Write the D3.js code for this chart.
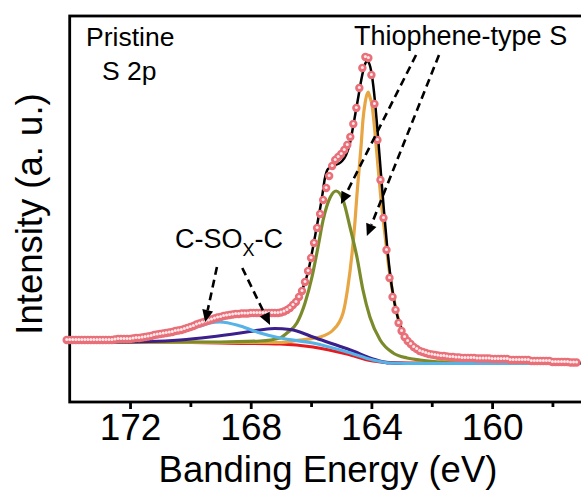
<!DOCTYPE html>
<html>
<head>
<meta charset="utf-8">
<script src="https://cdn.jsdelivr.net/npm/d3@7"></script>
<style>
body { margin: 0; background: #fff; }
text { font-family: "Liberation Sans", Arial, sans-serif; fill: #000; }
</style>
</head>
<body>
<div id="chart"></div>
<script>

// measured S 2p spectrum: start energy, step (eV) and counts (a. u.)
var bindStart = 174.1, bindStep = 0.1;
var rawCounts = [
	62, 62, 62, 62, 62, 62, 62, 62, 62, 62, 62, 62, 62, 62, 62, 62, 62.5, 63, 63, 63,
	63, 63, 63.5, 64, 64, 64.5, 65, 65.5, 66, 67, 67.5, 68, 68.5, 69, 69.5, 70, 71, 71.5, 72, 73,
	74, 75, 76, 77.5, 78.5, 79.5, 80.5, 81.5, 82.5, 83.5, 84.5, 85, 86, 86.5, 87, 87.5, 88, 88, 88.5, 88.5,
	88.5, 89, 89, 89, 89, 89, 89, 89, 89, 89, 89, 89.5, 90.5, 92, 94, 97, 100, 105, 111, 120,
	131, 144, 159, 174, 188, 202, 214, 226, 236, 242, 245, 248, 252, 257, 265, 278, 294, 314, 334, 345,
	344, 327, 298, 262, 222, 184, 152, 124, 105, 92, 79, 71, 65, 61, 58, 55, 53, 51, 50, 49,
	48, 47.5, 47, 46.5, 46, 46, 45.5, 45, 45, 44.5, 44.5, 44, 44, 44, 44, 44, 43.5, 43.5, 43.5, 43.5,
	43.5, 43, 43, 43, 43, 43, 43, 42, 42, 42, 42, 42, 42, 42, 41, 41, 41, 41, 41, 41,
	41, 40, 40, 40, 40, 40, 40, 39.5, 39.5, 39.5
];

// fitted envelope and components  [energy, intensity]
var envelope = [[174.0,62],[172.33,62.5],[171.11,68],[169.68,78],[168.35,87],[167.36,88],[166.86,90],[166.63,95],
	[166.43,104],[166.27,114],[166.10,130],[165.94,154],[165.77,182],[165.64,204],[165.54,224],[165.44,233],
	[165.27,236],[165.11,238],[164.97,241],[164.84,247],[164.71,259],[164.58,280],[164.44,304],[164.31,326],
	[164.21,338],[164.15,341],[164.08,339],[163.98,326],[163.88,300],[163.78,265],[163.68,227],[163.58,190],
	[163.48,156],[163.38,128],[163.28,107],[163.18,91],[163.05,77],[162.92,67],[162.72,59],[162.39,52],
	[161.89,47],[161.39,45],[160.40,43],[158.74,41],[157.05,39]];

var background = [[174.0,61],[171.34,60.5],[169.02,59],[167.03,58],[165.94,55],[164.81,48],[163.95,41],
	[163.38,39.5],[162.39,39],[157.05,38.5]];

var peakSOx1 = [[174.0,61],[172.33,62],[171.34,64.5],[170.34,70],[169.68,76],[169.35,79],[169.02,80],
	[168.35,76],[167.69,69],[167.03,64],[165.94,59],[164.81,50],[163.95,42],[163.38,39],[162.39,38.5],[157.05,38.5]];

var peakSOx2 = [[174.0,60.5],[172.66,60],[171.34,60.5],[170.34,62],[169.35,65],[168.35,69],[167.69,72],
	[167.20,73.5],[166.70,72.5],[166.37,70],[165.94,65],[165.27,58],[164.61,51],[163.95,43],[163.38,39],
	[162.39,38.5],[157.05,38.5]];

var peakThio1 = [[174.0,60.5],[169.02,60],[167.69,61],[167.03,64],[166.80,69],[166.47,79],[166.20,99],
	[165.97,125],[165.77,155],[165.60,182],[165.36,205],[165.17,211],[164.94,202],[164.71,175],[164.48,145],
	[164.28,112],[164.05,85],[163.71,62],[163.28,49],[162.82,44],[162.39,42],[161.73,40],[160.73,38.5],[157.05,38.5]];

var peakThio2 = [[174.0,60],[169.02,59.5],[167.03,59.5],[166.37,62],[165.71,65],[165.27,72],[164.94,89],
	[164.78,115],[164.64,149],[164.54,182],[164.48,207],[164.41,232],[164.34,257],[164.28,282],[164.21,299],
	[164.11,310],[164.05,305],[163.98,297],[163.88,269],[163.78,235],[163.68,202],[163.55,167],[163.42,134],
	[163.25,102],[163.08,80],[162.89,66],[162.62,56],[162.39,51],[161.73,43],[160.73,39],[157.05,38.5]];

var xTicks = [172, 168, 164, 160];
var xMinor = [170, 166, 162, 158];

// arrows: [fromE, fromI, toE, toI]
var arrows = [[162.52,347,165.01,198],[161.76,347,164.15,166],[169.12,135,169.51,80],[168.28,134,167.36,77]];

function drawchart()	{

	var svg = d3.select("#chart").append("svg")
		.attr("width", 581)
		.attr("height", 492);

	var x = d3.scaleLinear([174, 157], [69.7, 582.6]);
	var y = d3.scaleLinear([0, 386], [402, 16]);

	var spectrum = rawCounts.map((c, i) => [bindStart - i * bindStep, c]);

	var line = d3.line(d => x(d[0]), d => y(d[1])).curve(d3.curveMonotoneX);

	var comps = [
		{ pts: background, color: "#e8191e" },
		{ pts: peakThio2, color: "#e8a543" },
		{ pts: peakThio1, color: "#7b8a2b" },
		{ pts: peakSOx2, color: "#3b1f8c" },
		{ pts: peakSOx1, color: "#55b3e6" }
	];

	svg.selectAll(".comp")
		.data(comps)
		.join("path")
			.attr("class", "comp")
			.attr("fill", "none")
			.attr("stroke", d => d.color)
			.attr("stroke-width", 3.2)
			.attr("d", d => line(d.pts));

	svg.append("path")
		.attr("fill", "none")
		.attr("stroke", "#000")
		.attr("stroke-width", 2.5)
		.attr("d", line(envelope));

	// frame
	svg.append("rect")
		.attr("x", x(174)).attr("y", y(386))
		.attr("width", 600).attr("height", y(0) - y(386))
		.attr("fill", "none").attr("stroke", "#000").attr("stroke-width", 2.8);

	var major = d3.axisBottom(x).tickValues(xTicks).tickSize(7).tickSizeOuter(0).tickPadding(5);
	var minor = d3.axisBottom(x).tickValues(xMinor).tickSize(5).tickSizeOuter(0).tickFormat("");

	[minor, major].forEach(ax => {
		var g = svg.append("g")
			.attr("transform", `translate(0,${y(0)})`)
			.call(ax);
		g.select(".domain").remove();
		g.selectAll("line").attr("stroke-width", 2.8);
		g.selectAll("text")
			.attr("font-size", 37)
			.attr("font-family", "Liberation Sans, Arial, sans-serif");
	});

	// data points
	var pts = svg.append("g");
	pts.selectAll("circle.pt")
		.data(spectrum)
		.join("circle")
			.attr("class", "pt")
			.attr("cx", d => x(d[0]))
			.attr("cy", d => y(d[1]))
			.attr("r", 4.2)
			.attr("fill", "#e96f78");
	pts.selectAll("circle.hl")
		.data(spectrum)
		.join("circle")
			.attr("class", "hl")
			.attr("cx", d => x(d[0]))
			.attr("cy", d => y(d[1]) - 0.4)
			.attr("r", 1.5)
			.attr("fill", "#fde8ea");

	// arrows
	arrows.forEach(a => {
		var x0 = x(a[0]), y0 = y(a[1]), x1 = x(a[2]), y1 = y(a[3]);
		var ang = Math.atan2(y1 - y0, x1 - x0);
		var len = 12, half = 5.5;
		var bx = x1 - len * Math.cos(ang), by = y1 - len * Math.sin(ang);
		svg.append("line")
			.attr("x1", x0).attr("y1", y0).attr("x2", bx).attr("y2", by)
			.attr("stroke", "#000").attr("stroke-width", 2.6)
			.attr("stroke-dasharray", "8,5");
		svg.append("polygon")
			.attr("points", [
				[x1, y1],
				[bx + half * Math.sin(ang), by - half * Math.cos(ang)],
				[bx - half * Math.sin(ang), by + half * Math.cos(ang)]
			].map(p => p.join(",")).join(" "))
			.attr("fill", "#000");
	});

	// labels
	svg.append("text").attr("x", 86).attr("y", 46).attr("font-size", 26.5).text("Pristine");
	svg.append("text").attr("x", 102).attr("y", 80).attr("font-size", 26.5).text("S 2p");
	svg.append("text").attr("x", 354).attr("y", 45).attr("font-size", 27).text("Thiophene-type S");

	var sox = svg.append("text").attr("x", 175).attr("y", 248).attr("font-size", 27);
	sox.append("tspan").text("C-SO");
	sox.append("tspan").attr("font-size", 18).attr("dy", 8).text("X");
	sox.append("tspan").attr("dy", -8).text("-C");

	svg.append("text")
		.attr("x", 328).attr("y", 482)
		.attr("text-anchor", "middle")
		.attr("font-size", 36.5)
		.text("Banding Energy (eV)");

	svg.append("text")
		.attr("transform", "translate(42,214) rotate(-90)")
		.attr("text-anchor", "middle")
		.attr("font-size", 36.5)
		.text("Intensity (a. u.)");

}

drawchart();

</script>
</body>
</html>
